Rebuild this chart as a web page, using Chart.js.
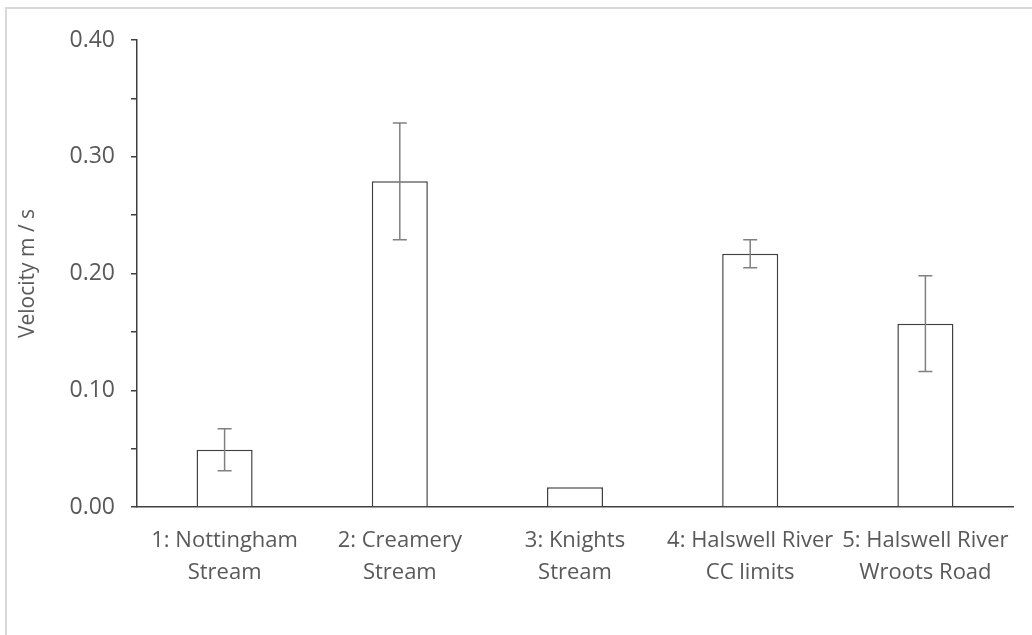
<!DOCTYPE html>
<html>
<head>
<meta charset="utf-8">
<script src="https://cdn.jsdelivr.net/npm/chart.js@4/dist/chart.umd.min.js"></script>
<style>
  html, body { margin: 0; padding: 0; background: #fff; }
  #wrap { position: relative; width: 1032px; height: 635px; overflow: hidden; }
  #frame { position: absolute; left: 5px; top: 7px; width: 1100px; height: 700px;
           border-left: 2px solid #d9d9d9; border-top: 2px solid #d9d9d9; }
  canvas { position: absolute; left: 0; top: 0; }
</style>
</head>
<body>
<div id="wrap">
  <div id="frame"></div>
  <canvas id="chart" width="1032" height="635"></canvas>
</div>
<script>
const sites = [
  ["1: Nottingham", "Stream"],
  ["2: Creamery", "Stream"],
  ["3: Knights", "Stream"],
  ["4: Halswell River", "CC limits"],
  ["5: Halswell River", "Wroots Road"],
];
const velocity = [0.049, 0.279, 0.017, 0.217, 0.157];
const velocityErr = [0.018, 0.05, 0, 0.012, 0.041];

const textColor = "#595959";
const fontFamily = "'Open Sans', 'Liberation Sans', sans-serif";

const errorBars = {
  id: "errorBars",
  afterDatasetsDraw(chart) {
    const ctx = chart.ctx;
    const yScale = chart.scales.y;
    const meta = chart.getDatasetMeta(0);
    ctx.save();
    ctx.strokeStyle = "#808080";
    ctx.lineWidth = 1.5;
    meta.data.forEach((bar, i) => {
      const err = velocityErr[i];
      if (!err) return;
      const x = bar.x;
      const yTop = yScale.getPixelForValue(velocity[i] + err);
      const yBot = yScale.getPixelForValue(velocity[i] - err);
      ctx.beginPath();
      ctx.moveTo(x, yTop); ctx.lineTo(x, yBot);
      ctx.moveTo(x - 7, yTop); ctx.lineTo(x + 7, yTop);
      ctx.moveTo(x - 7, yBot); ctx.lineTo(x + 7, yBot);
      ctx.stroke();
    });
    ctx.restore();
  },
};

new Chart(document.getElementById("chart").getContext("2d"), {
  type: "bar",
  data: {
    labels: sites,
    datasets: [
      {
        label: "Velocity",
        data: velocity,
        backgroundColor: "#ffffff",
        borderColor: "#404040",
        borderWidth: 1.5,
        categoryPercentage: 1,
        barPercentage: 0.32,
      },
    ],
  },
  options: {
    responsive: false,
    animation: false,
    layout: { padding: { top: 40, right: 19, bottom: 0, left: 0 } },
    plugins: { legend: { display: false }, tooltip: { enabled: false } },
    scales: {
      x: {
        grid: { display: false },
        border: { display: true, color: "#404040", width: 1.5 },
        ticks: {
          color: textColor,
          font: { family: fontFamily, size: 22, lineHeight: 1.45 },
          padding: 10,
          maxRotation: 0,
          autoSkip: false,
        },
        afterFit(scale) { scale.height = 128; },
      },
      y: {
        min: 0,
        max: 0.4,
        grid: {
          drawOnChartArea: false,
          drawTicks: true,
          tickLength: 6,
          color: "#404040",
          lineWidth: 1.5,
        },
        border: { display: true, color: "#404040", width: 1.5 },
        ticks: {
          stepSize: 0.05,
          color: textColor,
          font: { family: fontFamily, size: 23 },
          padding: 16,
          callback: (v) => (Math.round(v * 100) % 10 === 0 ? v.toFixed(2) : ""),
        },
        title: {
          display: true,
          text: "Velocity m / s",
          color: textColor,
          font: { family: fontFamily, size: 21 },
          padding: { top: 15, bottom: 0 },
        },
        afterFit(scale) { scale.width = 137; },
      },
    },
  },
  plugins: [errorBars],
});
</script>
</body>
</html>
